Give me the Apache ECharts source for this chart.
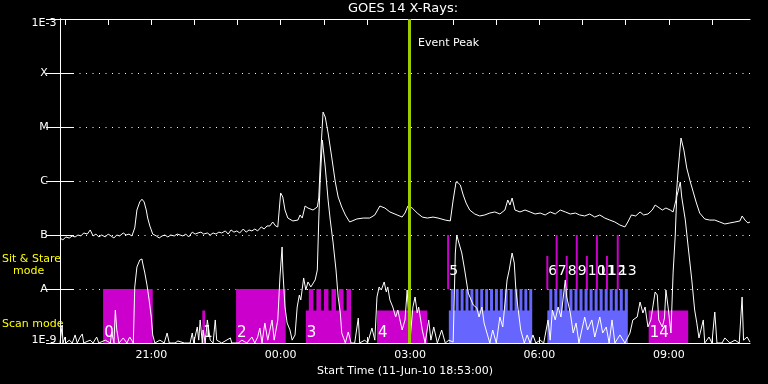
<!DOCTYPE html>
<html><head><meta charset="utf-8">
<script src="https://cdn.jsdelivr.net/npm/echarts@6/dist/echarts.min.js"></script>
<style>html,body{margin:0;padding:0;background:#000}#c{width:768px;height:384px}</style>
</head><body><div id="c"></div><script>
// Time is in minutes elapsed since the start time 11-Jun-10 18:53:00
const startClock = 18 * 60 + 53;
const spanMinutes = 960;
const tickMinutes = [7, 67, 127, 187, 247, 307, 367, 427, 487, 547, 607, 667, 727, 787, 847, 907];
const labelMinutes = [127, 307, 487, 667, 847];
const levelNames = { '-3': '1E-3', '-4': 'X', '-5': 'M', '-6': 'C', '-7': 'B', '-8': 'A', '-9': '1E-9' };
const fluxMin = 1e-9, fluxMax = 1e-3;
const eventPeak = 486;

// GOES 14 long channel (1-8 A) [minutes, W/m^2]
const longChannel = [
 [0,8.8e-8],[4,8.1e-8],[8,9.2e-8],[13,8.8e-8],[17,9.6e-8],[21,9.2e-8],[25,1.0e-7],[29,9.6e-8],[33,1.09e-7],[38,1.04e-7],
 [42,1.24e-7],[46,9.6e-8],[50,1.04e-7],[54,9.2e-8],[58,1.0e-7],[63,9.2e-8],[67,1.04e-7],[71,9.6e-8],[75,8.8e-8],[79,1.0e-7],
 [83,9.6e-8],[88,1.09e-7],[92,1.0e-7],[96,1.04e-7],[100,9.6e-8],[104,1.35e-7],[107,2.9e-7],[111,4.1e-7],[114,4.6e-7],[117,4.1e-7],
 [120,2.9e-7],[122,2.06e-7],[125,1.47e-7],[129,1.04e-7],[134,9.6e-8],[138,8.8e-8],[142,9.6e-8],[146,1.0e-7],[150,9.2e-8],[154,1.0e-7],
 [159,9.6e-8],[163,1.04e-7],[167,1.0e-7],[171,9.6e-8],[175,1.04e-7],[179,9.2e-8],[184,1.13e-7],[188,1.04e-7],[192,1.09e-7],[196,1.13e-7],
 [200,1.04e-7],[205,1.09e-7],[209,1.0e-7],[213,1.09e-7],[217,1.04e-7],[221,1.13e-7],[225,1.09e-7],[230,1.19e-7],[234,1.04e-7],[238,1.24e-7],
 [242,1.13e-7],[246,1.19e-7],[250,1.09e-7],[255,1.29e-7],[259,1.13e-7],[263,1.24e-7],[267,1.19e-7],[271,1.29e-7],[275,1.19e-7],[280,1.41e-7],
 [284,1.29e-7],[288,1.47e-7],[292,1.47e-7],[296,1.74e-7],[300,1.47e-7],[303,1.41e-7],[307,6.0e-7],[310,5.05e-7],[313,2.9e-7],[317,2.06e-7],
 [324,1.82e-7],[331,1.89e-7],[334,2.35e-7],[337,2.06e-7],[341,3.44e-7],[345,3.16e-7],[352,2.9e-7],[358,3.3e-7],[360,4.84e-7],[363,3.75e-6],
 [366,1.89e-5],[369,1.53e-5],[373,7.74e-6],[378,2.78e-6],[383,9.58e-7],[387,5.05e-7],[392,3.3e-7],[397,2.35e-7],[403,1.74e-7],[413,1.98e-7],
 [422,2.06e-7],[431,2.06e-7],[438,2.35e-7],[445,3.44e-7],[452,3.16e-7],[459,2.67e-7],[469,2.35e-7],[476,2.15e-7],[480,2.55e-7],[484,3.44e-7],
 [490,3.16e-7],[497,2.55e-7],[504,2.15e-7],[511,2.06e-7],[519,2.15e-7],[526,2.06e-7],[536,1.89e-7],[543,1.82e-7],[547,4.45e-7],[551,9.58e-7],
 [554,9.18e-7],[557,8.43e-7],[561,5.5e-7],[565,3.91e-7],[570,2.9e-7],[577,2.45e-7],[584,2.25e-7],[591,2.35e-7],[598,2.55e-7],[605,2.67e-7],
 [612,2.45e-7],[619,2.9e-7],[623,4.45e-7],[626,3.59e-7],[629,4.84e-7],[633,2.9e-7],[640,2.67e-7],[647,2.9e-7],[654,2.67e-7],[661,2.45e-7],
 [668,2.55e-7],[675,2.35e-7],[682,2.67e-7],[689,2.45e-7],[696,2.9e-7],[703,2.67e-7],[710,2.45e-7],[717,2.55e-7],[723,2.35e-7],[730,2.25e-7],
 [737,2.45e-7],[744,2.15e-7],[751,2.35e-7],[758,2.06e-7],[765,1.89e-7],[772,1.74e-7],[779,1.53e-7],[786,1.41e-7],[790,1.74e-7],[795,2.35e-7],
 [801,2.25e-7],[807,2.67e-7],[812,2.35e-7],[818,2.45e-7],[824,2.9e-7],[828,3.59e-7],[832,3.3e-7],[838,2.9e-7],[843,3.16e-7],[849,2.9e-7],
 [853,2.67e-7],[857,4.45e-7],[860,1.6e-6],[864,6.26e-6],[868,3.75e-6],[872,1.74e-6],[877,9.58e-7],[881,6.26e-7],[885,4.08e-7],[890,2.55e-7],
 [897,1.98e-7],[904,1.89e-7],[911,1.89e-7],[918,1.74e-7],[925,1.6e-7],[932,1.67e-7],[939,1.74e-7],[946,1.82e-7],[949,2.25e-7],[953,1.89e-7],
 [957,1.67e-7],[960,1.74e-7]
];

// GOES 14 short channel (0.5-4 A) [minutes, W/m^2]
const shortChannel = [
 [0,1e-9],[3,2.15e-9],[4,1e-9],[7,1.29e-9],[8,1e-9],[13,1.13e-9],[17,1e-9],[21,1.41e-9],[24,1e-9],[28,1.29e-9],
 [31,1.47e-9],[33,1e-9],[42,1.13e-9],[46,1e-9],[51,1.29e-9],[54,1e-9],[63,1.13e-9],[70,1e-9],[72,1.6e-9],[75,1e-9],
 [77,4.08e-9],[79,1.74e-9],[82,1e-9],[88,1.24e-9],[93,1e-9],[97,1.29e-9],[102,1e-9],[104,1.09e-8],[107,2.55e-8],[111,3.44e-8],
 [114,3.59e-8],[115,3.03e-8],[118,1.98e-8],[121,1.19e-8],[124,6.26e-9],[127,3.03e-9],[129,1.41e-9],[132,1e-9],[139,1.13e-9],[145,1e-9],
 [149,1.53e-9],[152,1e-9],[160,1e-9],[164,1.09e-9],[173,1e-9],[181,1e-9],[184,1.53e-9],[186,1e-9],[191,1.98e-9],[193,1.13e-9],
 [195,2.67e-9],[198,1e-9],[199,1.74e-9],[202,1e-9],[205,2.67e-9],[209,1.13e-9],[213,1e-9],[216,2.67e-9],[218,1.13e-9],[225,1e-9],
 [237,1.24e-9],[239,1e-9],[248,1e-9],[253,1.13e-9],[260,1e-9],[267,1.29e-9],[271,1e-9],[275,1.29e-9],[278,1.89e-9],[281,1e-9],
 [285,2.35e-9],[289,1.13e-9],[295,2.67e-9],[298,1.13e-9],[303,2.67e-9],[306,1.67e-8],[309,6.0e-8],[310,2.25e-8],[313,4.64e-9],[316,2.35e-9],
 [320,1.74e-9],[323,1.13e-9],[327,1.41e-9],[330,4.64e-9],[333,7.74e-9],[335,6.26e-9],[339,1.6e-8],[342,9.58e-9],[345,1.35e-8],[349,1.09e-8],
 [355,1.47e-8],[358,2.25e-8],[360,1.89e-7],[362,1.04e-6],[365,5.74e-6],[369,1.82e-6],[373,4.45e-7],[376,1.89e-7],[380,7.11e-8],[384,2.25e-8],
 [387,7.11e-9],[390,3.59e-9],[392,1.53e-9],[397,1e-9],[401,1.6e-9],[405,1e-9],[410,1e-9],[415,2.9e-9],[417,1e-9],[424,1.13e-9],
 [428,1e-9],[434,1.89e-9],[438,1.13e-9],[441,7.11e-9],[444,1.09e-8],[447,9.58e-9],[451,1.35e-8],[454,8.8e-9],[456,1.09e-8],[459,6.26e-9],
 [463,4.64e-9],[467,3.03e-9],[470,4.08e-9],[476,1.74e-9],[480,2.67e-9],[483,9.58e-9],[487,1.13e-9],[491,4.64e-9],[494,7.11e-9],[497,3.59e-9],
 [499,4.64e-9],[504,1.74e-9],[508,1e-9],[513,2.67e-9],[516,1.13e-9],[520,1.98e-9],[525,1e-9],[531,1.74e-9],[536,1e-9],[541,1.13e-9],
 [547,1.04e-9],[550,4.64e-8],[552,1.0e-7],[555,7.11e-8],[559,4.64e-8],[563,2.25e-8],[568,8.43e-9],[572,6.26e-9],[575,5.05e-9],[580,4.45e-9],
 [583,3.03e-9],[587,4.64e-9],[590,2.35e-9],[594,1.53e-9],[598,1e-9],[602,1.74e-9],[607,1e-9],[612,3.03e-9],[616,1.98e-9],[622,1.47e-8],
 [625,2.25e-8],[629,4.64e-8],[632,3.03e-8],[634,1.09e-8],[637,4.64e-9],[641,1.74e-9],[646,1e-9],[650,1.41e-9],[654,1e-9],[658,1.41e-9],
 [662,1e-9],[668,1.13e-9],[673,1e-9],[679,2.67e-9],[682,1.13e-9],[685,4.08e-9],[689,2.67e-9],[693,4.64e-9],[697,3.03e-9],[703,1.47e-8],
 [705,7.11e-9],[710,3.59e-9],[714,1.53e-9],[718,2.35e-9],[722,1e-9],[726,1.74e-9],[730,3.03e-9],[734,1.74e-9],[740,2.67e-9],[744,1.29e-9],
 [751,3.03e-9],[755,1.53e-9],[760,1.98e-9],[764,1e-9],[768,2.67e-9],[772,1e-9],[779,1.41e-9],[786,1e-9],[793,1.53e-9],[797,2.67e-9],
 [803,3.03e-9],[807,5.74e-9],[811,3.59e-9],[814,4.64e-9],[818,1.98e-9],[822,2.67e-9],[828,8.8e-9],[831,7.74e-9],[833,2.67e-9],[838,1.98e-9],
 [841,2.9e-9],[843,9.58e-9],[846,4.64e-9],[850,1.53e-9],[853,1.98e-8],[856,1.0e-7],[858,5.05e-7],[863,9.58e-7],[865,5.05e-7],[870,1.89e-7],
 [874,6.0e-8],[879,1.47e-8],[883,4.08e-9],[886,2.35e-9],[889,1.24e-9],[895,2.67e-9],[897,1e-9],[903,1.29e-9],[907,1e-9],[911,3.75e-9],
 [914,1e-9],[921,1e-9],[925,1.24e-9],[932,1e-9],[939,1.13e-9],[945,1e-9],[949,7.11e-9],[951,1.13e-9],[956,1.29e-9],[960,1.04e-9]
];

// Observation blocks (mode 0 = scan, 1 = sit & stare exposures)
const blockStart = [60, 198, 245, 342, 441, 541, 678, 819];
const blockEnd   = [129, 202, 314, 405, 511, 657, 790, 874];
const blockLow   = [1e-8, 4e-9, 1e-8, 4e-9, 4e-9, 4e-9, 4e-9, 4e-9];
const blockHigh  = [1e-8, 4e-9, 1e-8, 1e-8, 4e-9, 1e-8, 1e-8, 4e-9];
const blockSteps = [0, 0, 0, 6, 0, 17, 16, 0];
const blockMode  = [0, 0, 0, 0, 0, 1, 1, 0];

// Scan-mode observation numbers and start times
const scanObsId   = [0, 1, 2, 3, 4, 14];
const scanObsTime = [60, 198, 245, 342, 441, 819];

// Sit & stare observations
const stareObsId   = [5, 6, 7, 8, 9, 10, 11, 12, 13];
const stareObsTime = [540, 678, 691, 705, 719, 733, 747, 761, 776];
const stareObsTop  = [1e-7, 4.1e-8, 1e-7, 4.1e-8, 1e-7, 4.1e-8, 1e-7, 4.1e-8, 1e-7];
const stareBase = 1e-8;

const MAGENTA = '#cc00cc', BLUE = '#6666ff', PEAK = '#9ccc00', YELLOW = '#ffff00';
const FONT = 'DejaVu Sans';

function clock(m) {
  const t = (startClock + Math.round(m)) % 1440;
  const h = Math.floor(t / 60), mm = t % 60;
  return String(h).padStart(2, '0') + ':' + String(mm).padStart(2, '0');
}

function levelLabel(v) {
  const e = Math.round(Math.log10(v));
  const name = levelNames[String(e)] || '';
  if (e === -3) return '{hi|' + name + '}';
  if (e === -9) return '{lo|' + name + '}';
  return name;
}

const chart = echarts.init(document.getElementById('c'), null, { renderer: 'canvas' });

const blockData = blockStart.map((s, i) => [s, blockEnd[i], blockLow[i], blockHigh[i], blockSteps[i], blockMode[i]]);
const scanLabelData = scanObsTime.map((t, i) => [t, fluxMin, scanObsId[i]]);
const stareData = stareObsTime.map((t, i) => [t, stareObsTop[i], stareObsId[i]]);

function renderBlock(params, api) {
  const s = api.value(0), e = api.value(1), lo = api.value(2), hi = api.value(3);
  const steps = api.value(4), mode = api.value(5);
  const color = mode === 1 ? BLUE : MAGENTA;
  const b0 = api.coord([s, fluxMin]);
  const b1 = api.coord([e, lo]);
  const children = [{ type: 'rect', shape: { x: b0[0], y: b1[1], width: b1[0] - b0[0], height: b0[1] - b1[1] }, style: { fill: color } }];
  if (steps > 0) {
    const top = api.coord([s, hi])[1];
    const w = (b1[0] - b0[0]) / steps;
    for (let k = 0; k < steps; k++) {
      children.push({ type: 'rect', shape: { x: b0[0] + k * w + w * 0.4, y: top, width: w * 0.6, height: b1[1] - top + 0.5 }, style: { fill: color } });
    }
  }
  return { type: 'group', children };
}

function renderScanLabel(params, api) {
  const p = api.coord([api.value(0), api.value(1)]);
  return { type: 'text', style: { text: String(api.value(2)), x: p[0] + 1, y: p[1] - 10, fill: '#fff', font: '15px ' + FONT, align: 'left', verticalAlign: 'middle' } };
}

function renderStare(params, api) {
  const t = api.value(0), top = api.value(1);
  const pTop = api.coord([t, top]);
  const pBase = api.coord([t, stareBase]);
  return { type: 'group', children: [
    { type: 'rect', shape: { x: pTop[0] - 1, y: pTop[1], width: 2, height: pBase[1] - pTop[1] }, style: { fill: MAGENTA } },
    { type: 'text', style: { text: String(api.value(2)), x: pTop[0] + 1, y: pBase[1] - 18, fill: '#fff', font: '14px ' + FONT, align: 'left', verticalAlign: 'middle' } }
  ]};
}

const option = {
  backgroundColor: '#000',
  animation: false,
  grid: { left: 60, right: 18, top: 19, bottom: 41, show: false },
  xAxis: [
    {
      type: 'value', min: 0, max: spanMinutes, position: 'bottom',
      name: 'Start Time (11-Jun-10 18:53:00)', nameLocation: 'middle', nameGap: 21,
      nameTextStyle: { color: '#fff', fontSize: 11, fontFamily: FONT },
      axisLine: { show: true, lineStyle: { color: '#fff', width: 1 } },
      axisTick: { show: true, inside: true, length: 6, lineStyle: { color: '#fff' }, customValues: tickMinutes },
      axisLabel: { show: true, color: '#fff', fontSize: 11, fontFamily: FONT, margin: 7, customValues: labelMinutes, formatter: v => clock(v) },
      splitLine: { show: false }
    },
    {
      type: 'value', min: 0, max: spanMinutes, position: 'top',
      axisLine: { show: true, lineStyle: { color: '#fff', width: 1 } },
      axisTick: { show: true, inside: true, length: 6, lineStyle: { color: '#fff' }, customValues: tickMinutes },
      axisLabel: { show: false },
      splitLine: { show: false }
    }
  ],
  yAxis: [
    {
      type: 'log', logBase: 10, min: fluxMin, max: fluxMax, interval: 1, splitNumber: 6, position: 'left',
      axisLine: { show: true, lineStyle: { color: '#fff', width: 1 } },
      axisTick: { show: true, inside: true, length: 13, lineStyle: { color: '#fff' } },
      axisLabel: { show: true, color: '#fff', fontSize: 11, fontFamily: FONT, margin: 16, align: 'center',
        formatter: levelLabel,
        rich: {
          hi: { color: '#fff', fontSize: 11, fontFamily: FONT, padding: [9, 0, 0, 0] },
          lo: { color: '#fff', fontSize: 11, fontFamily: FONT, padding: [0, 0, 6, 0] }
        } },
      splitLine: { show: true, lineStyle: { color: '#fff', width: 1, type: [1, 5.5] } },
      minorTick: { show: false }
    },
    {
      type: 'log', logBase: 10, min: fluxMin, max: fluxMax, interval: 1, splitNumber: 6, position: 'right',
      axisLine: { show: true, lineStyle: { color: '#fff', width: 1 } },
      axisTick: { show: true, inside: true, length: 14, lineStyle: { color: '#fff' } },
      axisLabel: { show: false },
      splitLine: { show: false }
    }
  ],
  graphic: [
    { type: 'text', x: 403, y: 9, style: { text: 'GOES 14 X-Rays:', fill: '#fff', font: '13px ' + FONT, align: 'center', verticalAlign: 'middle' } },
    { type: 'text', x: 418, y: 43, style: { text: 'Event Peak', fill: '#fff', font: '11px ' + FONT, align: 'left', verticalAlign: 'middle' } },
    { type: 'text', x: 2, y: 259, style: { text: 'Sit & Stare', fill: YELLOW, font: '11px ' + FONT, align: 'left', verticalAlign: 'middle' } },
    { type: 'text', x: 13, y: 271, style: { text: 'mode', fill: YELLOW, font: '11px ' + FONT, align: 'left', verticalAlign: 'middle' } },
    { type: 'text', x: 2, y: 324, style: { text: 'Scan mode', fill: YELLOW, font: '11px ' + FONT, align: 'left', verticalAlign: 'middle' } }
  ],
  series: [
    { type: 'custom', name: 'blocks', renderItem: renderBlock, data: blockData, z: 1, clip: true, silent: true },
    { type: 'custom', name: 'stare', renderItem: renderStare, data: stareData, z: 1, clip: false, silent: true },
    {
      type: 'line', name: 'peak', data: [], z: 2, silent: true,
      markLine: { silent: true, symbol: ['none', 'none'], label: { show: false }, animation: false,
        lineStyle: { color: PEAK, width: 3, type: 'solid' }, data: [{ xAxis: eventPeak }] }
    },
    { type: 'line', name: 'long', data: longChannel, showSymbol: false, symbol: 'none', z: 3, clip: true,
      lineStyle: { color: '#fff', width: 1 }, silent: true },
    { type: 'line', name: 'short', data: shortChannel, showSymbol: false, symbol: 'none', z: 3, clip: true,
      lineStyle: { color: '#fff', width: 1 }, silent: true },
    { type: 'custom', name: 'scanLabels', renderItem: renderScanLabel, data: scanLabelData, z: 4, clip: false, silent: true }
  ]
};
chart.setOption(option);
</script></body></html>
